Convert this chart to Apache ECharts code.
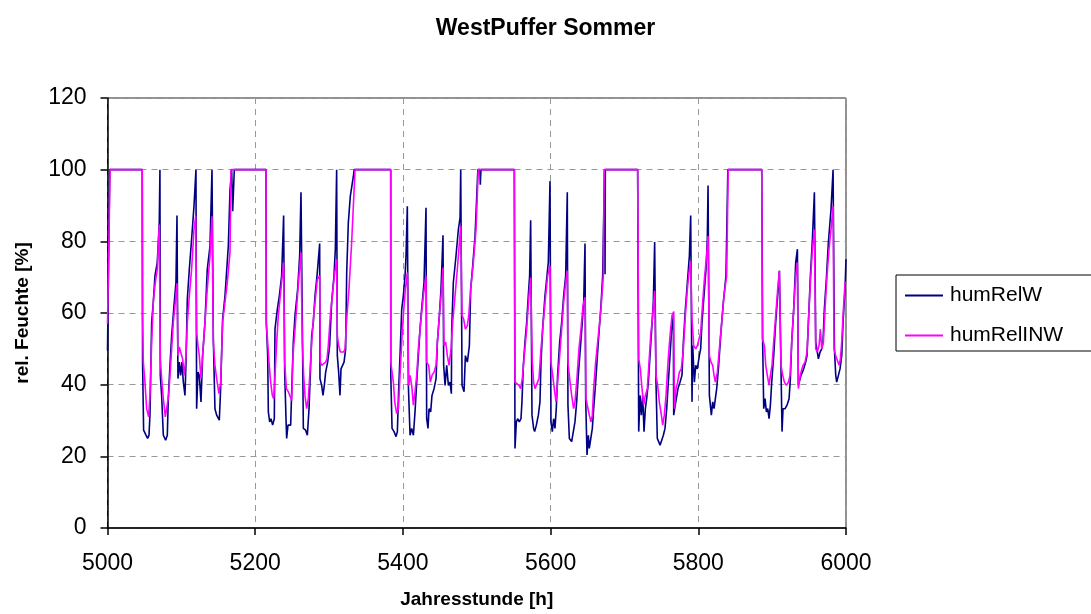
<!DOCTYPE html>
<html>
<head>
<meta charset="utf-8">
<script src="https://cdn.jsdelivr.net/npm/echarts@6/dist/echarts.min.js"></script>
<style>
html,body{margin:0;padding:0;background:#fff;}
#chart{width:1091px;height:614px;}
</style>
</head>
<body>
<div id="chart"></div>
<script>
var titleText = 'WestPuffer Sommer';
var xAxisName = 'Jahresstunde [h]';
var yAxisName = 'rel. Feuchte [%]';
var seriesNames = ['humRelW', 'humRelINW'];
var xTicks = [5000, 5200, 5400, 5600, 5800, 6000];
var yTicks = [0, 20, 40, 60, 80, 100, 120];

// humRelW : hour / value pairs
var wHours = [
5000,5003,5047,5047.5,5048.9,5052.1,5054.3,5056.2,5057.5,5059.8,5062,5064.3,5067.4,5070.1,5071,
5071.5,5073.3,5075.6,5078.7,5081,5082.3,5084.6,5086.9,5090,5092.7,5094.1,
5095.4,5097.2,5099,5100.8,5102.7,5104.9,5106.3,5108.1,5110.8,5113.9,5117.1,5119.8,
5120.7,5122.5,5124.3,5126.6,5128.8,5132,5135.1,5138.8,5141.5,
5143.3,5145.5,5147.8,5151.4,5153.2,5155.9,5159.1,5163.6,5165.9,5168.1,5169.5,5171.7,5214.6,
5215.1,5216.9,5217.8,5219.6,5221.4,5223.6,5225.9,5226.8,5230,5232.7,5235.8,5238.5,
5239.9,5241.7,5242.6,5244.4,5248,5249.8,5251.6,5253.9,5257.5,5260.2,5262,
5263.8,5265.2,5268.3,5270.6,5272.9,5274.7,5276.5,5278.7,5281,5283.7,5287.3,
5287.7,5290,5291.8,5293.6,5295.4,5298.1,5300.8,5303.5,5306.7,5308.5,5310.3,
5311.2,5313,5314.8,5316.2,5318,5320.3,5322.5,5323.9,5326.1,5328.8,5332.9,5334,5383.5,
5383.6,5385.3,5388,5390.7,5392.5,5394.3,5396.1,5398.4,5400.6,5402.9,5404.2,5406,
5407.4,5409.7,5411.9,5414.2,5416.4,5418.7,5420.9,5423.2,5425.4,5428.6,5431.3,
5432.2,5434,5435.4,5437.6,5439.4,5442.2,5444.9,5446.7,5449.4,5451.6,5454.3,
5455.2,5457.1,5459.3,5461.6,5463.8,5465.6,5466.1,5468.3,5471.9,5475.1,5477.4,5478.3,
5480.1,5482.8,5484.6,5487.3,5490,5491.8,5494.5,5497.7,5501.5,5504.4,5504.8,5505.7,5550.9,
5551.8,5553.6,5555.4,5557.6,5559.9,5561.2,5563.1,5565.3,5567.6,5569.8,5571.6,5573,
5574.8,5577,5578.4,5580.7,5583.4,5585.6,5587,5589.2,5592.4,5595.1,5596.9,5599.2,
5600.5,5602.3,5604.1,5605.9,5607.7,5609.5,5612.3,5615,5617.7,5620.4,5622.6,
5623.5,5625.4,5628.5,5631.2,5633,5635.3,5637.5,5640.2,5642.9,5644.8,5646.6,
5647.5,5649.3,5651.1,5652.4,5654.7,5656.5,5658.3,5661,5664.6,5668.2,5670.5,5673,5673.7,5674.1,5717.9,
5719.3,5721.1,5722.9,5724.7,5726.5,5728.3,5730.1,5732.4,5734.6,5736.9,5739.1,5740.9,
5742.7,5744.5,5746.3,5748.2,5750.4,5752.7,5754.9,5757.2,5759.4,5761.7,5763.9,5766.2,
5766.7,5768,5770.7,5772.5,5775.2,5777.9,5779.8,5782.5,5785.2,5787.9,5789.7,
5791.5,5792.4,5794.7,5796.5,5798.7,5801.4,5803.2,5805,5807.7,5810.4,5812.2,5813.2,
5815,5817.7,5819.5,5821.3,5823.1,5824.9,5827.6,5830.3,5833.9,5837.5,5840,5885.9,
5887.2,5888.6,5890.4,5892.2,5894,5895.8,5897.6,5899.4,5902.1,5904.8,5907.5,5909.8,5911.1,
5912,5913.4,5914.7,5917.5,5920.2,5922.9,5924.7,5926.5,5929.2,5931.9,5934.2,
5935.5,5937.3,5939.1,5940.9,5942.7,5945.4,5947.2,5949.1,5951.8,5954.5,5957.2,
5959,5961.2,5962.6,5964.9,5967.1,5968.9,5970.7,5973.4,5976.1,5979.7,5982.5,
5984.3,5986.1,5987.4,5989.7,5991.9,5994.2,5996,5998.7,6000
];
var wValues = [
49.5,100,100,46,27.3,25.9,25,25.9,31.5,57.4,63,70.4,74.1,85.2,100,
42.6,37,25.9,24.5,25.9,36.1,45.4,53.7,62,68.5,87.2,
41.7,46.3,42.6,46.3,40.7,37,46.3,63.9,72.2,80.6,89.8,100,
33.3,43.5,42.6,35.2,48.1,57.4,72.2,78.7,100,
52.8,33.3,31.5,30.1,38.9,58.3,64.8,78.7,94.4,100,88.4,100,100,
57.4,48.1,32.4,29.6,30.5,28.7,30.5,55.5,61.1,64.8,70.4,87.2,
43.5,30.5,25,28.7,28.7,40.7,51.9,59.3,66.7,75.9,93.7,
57.4,27.8,27.3,25.9,33.3,43.5,53.7,57.4,64.8,70.4,79.4,
41.7,39.8,37,39.8,43.5,46.3,50.9,62.9,70.4,77.8,100,
48.1,43.5,37,44.4,44.4,46.3,50,71.3,85.2,92.6,98.1,100,100,
42.6,27.8,26.9,25.5,26.9,38.9,48.1,61.1,64.8,70.4,75.9,89.8,
39.8,25.9,27.8,25.9,32.4,40.7,48.1,55.5,61.1,68.5,89.4,
30.5,27.8,33.3,32.4,37,38.9,41.7,51.9,59.3,66.7,81.7,
45.4,39.8,45.4,39.8,40.7,37.5,55.5,68.5,75.9,83.3,86.6,100,
39.8,38,48.1,46.3,50.9,66.7,73.1,81.5,100,100,95.8,100,100,
22.2,29.6,30.5,29.6,30.5,35.2,45.4,51.9,57.4,64.8,70.4,85.9,
31.5,27.8,26.9,28.7,31.5,35.2,46.3,55.5,64.8,70.4,74.1,96.8,
29.6,26.9,30.5,27.8,33.3,42.6,51.9,57.4,64.8,70.4,93.7,
34.3,25,24.1,24.1,29.6,35.2,42.6,50,57.4,63,79.4,
36.1,20.4,25.9,22.2,22.7,27.8,33.3,40.7,51.9,62,70.4,100,70.8,100,100,
26.9,37,31.5,37,26.9,33.3,36.1,40.7,48.1,55.5,63,79.8,
40.7,25,24.1,23.1,22.7,25.9,27.8,33.3,40.7,48.1,55.5,59.3,
31.5,33.3,33.3,38.9,40.7,42.6,51.9,61.1,68.5,75.9,87.2,
35.2,50.9,40.7,45.4,44.4,48.1,50,57.4,64.8,72.2,80.6,95.6,
37,31.5,35.2,33.3,36.1,38.9,45.4,53.7,63,70.4,100,100,
50.9,33.3,36.1,32.4,33.3,30.5,34.3,40.7,48.1,57.4,64.8,71.8,71.8,
44.4,26.9,33.3,33.3,34.3,36.1,41.7,51.9,61.1,74.1,77.8,
39.8,39.8,42.6,43.5,44.4,46.3,48.1,57.4,70.4,80.6,93.7,
51.9,49.1,47.2,49.1,50,51.9,61.1,69.4,79.6,88.9,100,
50,42.6,40.7,42.6,44.4,48.1,57.4,66.7,75
];

// humRelINW : hour / value pairs
var nwHours = [
5000,5003.5,5047.1,5047.5,5048.5,5050.7,5053,5055.7,5057.5,5059.8,5062,5064.7,5067.4,5070.1,
5071.5,5073.3,5075.6,5078.3,5081,5082.8,5084.6,5086.9,5089.1,5091.8,5094.1,
5095.4,5097.2,5099.5,5101.7,5104,5106.3,5108.1,5110.8,5113.9,5117.1,5119.4,
5120.7,5122.5,5124.3,5126.6,5128.8,5132,5135.1,5138.8,5141.5,
5143.3,5145.5,5147.8,5150.9,5153.2,5155.9,5159.1,5162.2,5165.9,5167.2,5214.6,
5214.8,5216.9,5218.7,5220.9,5223.2,5225,5226.8,5229.1,5231.3,5234.9,5238.5,
5239.9,5242.2,5244.9,5247.1,5249.4,5251.2,5253.9,5256.6,5259.3,5262,
5263.8,5265.6,5267.4,5269.7,5271.9,5274.2,5276.5,5279.2,5281.9,5284.1,5287.3,
5288.2,5290,5292.7,5295.4,5297.2,5299,5301.7,5304.4,5307.2,5310.3,
5311.2,5313,5315.3,5318,5319.8,5321.6,5323.9,5327,5330.6,5335.2,5383.5,
5383.6,5385.3,5387.1,5388.9,5391.6,5393.9,5396.1,5398.4,5400.6,5403.3,5406,
5407.9,5409.7,5411.9,5414.2,5416.4,5418.7,5420.9,5424.1,5427.7,5431.3,
5432.2,5434.9,5437.2,5439.4,5442.2,5444.9,5446.7,5449.4,5452.5,5454.3,
5455.7,5457.9,5460.2,5462.5,5465.2,5467.4,5470.6,5473.7,5476.5,5478.3,
5480.1,5482.3,5484.6,5487.3,5489.1,5491.8,5495.4,5499,5502.1,5550.9,
5551.8,5554.5,5557.2,5559.4,5561.7,5564.4,5567.6,5570.7,5573,
5575.2,5577,5578.9,5581.6,5584.3,5587,5590.1,5593.3,5596,5599.2,
5600.5,5602.8,5605,5607.3,5609.5,5612.3,5615,5617.7,5620.4,5622.6,
5623.5,5625.8,5628.5,5631.2,5633,5635.3,5638.4,5641.1,5643.9,5646.6,
5647.9,5650.2,5652.4,5654.7,5656.5,5658.3,5661,5664.6,5668.2,5671.4,5672.6,5717.9,
5719.3,5721.5,5723.8,5726,5728.3,5731,5733.3,5735.5,5738.2,5740.9,
5742.7,5745,5747.2,5750,5751.8,5754,5756.3,5759,5761.7,5764.4,5766.7,
5767.6,5769.8,5772.1,5774.3,5777,5779.8,5782.5,5785.2,5787.9,5789.7,
5791.5,5793.7,5796.5,5798.7,5801.4,5803.2,5805.9,5808.6,5811.3,5813.2,
5815,5817.2,5819.5,5821.3,5823.1,5825.8,5828.5,5831.7,5834.8,5838.4,5840.5,5885.9,
5886.8,5889.5,5891.3,5893.5,5895.8,5897.6,5899.8,5902.1,5904.8,5907.5,5909.8,5911.1,
5912,5914.3,5916.6,5919.3,5922,5924.2,5926.5,5929.2,5931.9,5934.2,
5935.5,5937.3,5939.1,5941.8,5944.5,5947.2,5949.1,5951.8,5954.5,5957.2,
5959,5961.2,5963.5,5965.3,5967.1,5969.4,5971.6,5974.3,5977,5979.7,5982.5,
5983.8,5986.1,5988.3,5990.6,5992.4,5994.2,5996,5998.7,6000
];
var nwValues = [
57,100,100,59.3,46.3,40.7,33.3,31,37,51.9,63,68.5,72.2,84.7,
47.2,41.7,36.1,31,31.5,37,42.6,50,57.4,63,68.3,
48.1,50.5,50,47.2,42.6,48.1,57.4,64.8,72.2,83.3,87,
54.6,50.9,48.1,41.7,48.1,57.4,66.7,75.9,87,
51.9,45.4,41.7,37.5,40.7,57.4,63,68.5,76.9,100,100,
57.4,51.9,46.3,40.7,37,36.1,42.6,51.9,59.3,66.7,74.1,
46.3,38.9,38,37.5,35.6,48.1,55.5,63,70.4,76.9,
51.9,42.6,37,33.3,36.1,43.5,51.9,59.3,64.8,69.4,70.4,
46.3,45.4,44.9,46.3,47.2,50.9,59.3,64.8,70.4,75,
53.7,50.9,49.1,49.5,49.1,50,58.3,66.7,79.6,100,100,
46.3,43.5,40.7,35.2,31.9,33.3,42.6,51.9,59.3,66.7,71.3,
39.8,42.6,39.8,34.3,38,42.6,50,57.4,64.8,70.4,
46.3,45.4,40.7,42.6,43.5,45.4,51.9,59.3,66.7,72.7,
50.9,51.9,48.1,45.4,50,57.4,64.8,72.2,79.6,84.3,
59.3,58.3,55.5,56.5,59.3,66.7,74.1,83.3,100,100,
40.7,40.7,39.8,38.9,41.7,48.1,55.5,64.8,69.9,
46.3,40.7,38.9,38.9,41.7,50,57.4,64.8,70.4,73.1,
46.3,42.6,38.9,35.2,40.7,48.1,55.5,63,68.5,71.8,
46.3,41.7,37,33.3,35.2,40.7,50,55.5,62,64.4,
36.1,36.1,31.5,29.6,31.5,38.9,46.3,53.7,61.1,70.4,100,100,
47.2,44.4,38.9,34.3,37,38.9,46.3,53.7,59.3,66.2,
42.6,39.8,35.2,31.5,28.7,31.5,37,46.3,53.7,59.3,60.4,
33.3,38.9,40.7,43.5,44.4,50,59.3,66.7,72.2,74.5,
58.3,50.9,50,50.9,50.9,54.6,63,70.4,75.9,81.5,
48.1,46.3,45.4,42.6,40.7,43.5,50,57.4,64.8,70.4,100,100,
52.8,50.9,45.4,42.6,39.8,42.6,45.4,51.9,59.3,66.7,71.8,71.8,
45.4,42.6,40.7,39.8,40.7,42.6,51.9,61.1,70.4,74.1,
38.9,41.7,43.5,45.4,46.3,49.1,57.4,68.5,77.8,83.3,
50,49.1,50.9,55.5,50,51.9,61.1,70.4,77.8,83.3,89.8,
50,48.1,47.7,45.4,47.2,51.9,59.3,68.5,68.5
];

function pairs(xs, ys) {
  var out = [];
  for (var i = 0; i < xs.length && i < ys.length; i++) out.push([xs[i], ys[i]]);
  return out;
}

var FONT = '"Liberation Sans", Arial, sans-serif';
var chart = echarts.init(document.getElementById('chart'), null, {renderer: 'canvas'});
chart.setOption({
  animation: false,
  backgroundColor: '#ffffff',
  title: {
    text: titleText, left: 'center', top: 12,
    textStyle: {fontFamily: FONT, fontSize: 23, fontWeight: 'bold', color: '#000'}
  },
  legend: {
    orient: 'vertical', left: 896, top: 275,
    padding: [10, 40, 5, 9],
    itemGap: 19,
    itemWidth: 38, itemHeight: 2,
    borderColor: '#000', borderWidth: 1,
    icon: 'rect',
    textStyle: {fontFamily: FONT, fontSize: 21, color: '#000', padding: [0, 0, 0, 2]},
    data: seriesNames
  },
  grid: {
    left: 107.5, right: 245, top: 98, bottom: 84,
    show: true, borderColor: '#222', borderWidth: 1
  },
  xAxis: {
    type: 'value', min: xTicks[0], max: xTicks[xTicks.length - 1], interval: 200,
    name: xAxisName, nameLocation: 'middle', nameGap: 62,
    nameTextStyle: {fontFamily: FONT, fontSize: 19, fontWeight: 'bold', color: '#000'},
    axisLine: {show: true, lineStyle: {color: '#000', width: 1.5}},
    axisTick: {show: true, length: 7, lineStyle: {color: '#000', width: 1.5}},
    axisLabel: {fontFamily: FONT, fontSize: 23, color: '#000', margin: 24,
      formatter: function (v) { return String(v); }},
    splitLine: {show: true, lineStyle: {color: '#999', type: [6, 5], width: 1}}
  },
  yAxis: {
    type: 'value', min: yTicks[0], max: yTicks[yTicks.length - 1], interval: 20,
    name: yAxisName, nameLocation: 'middle', nameGap: 75, nameRotate: 90,
    nameTextStyle: {fontFamily: FONT, fontSize: 19, fontWeight: 'bold', color: '#000'},
    axisLine: {show: true, lineStyle: {color: '#000', width: 1.5}},
    axisTick: {show: true, length: 7, lineStyle: {color: '#000', width: 1.5}},
    axisLabel: {fontFamily: FONT, fontSize: 23, color: '#000', margin: 21},
    splitLine: {show: true, lineStyle: {color: '#999', type: [6, 5], width: 1}}
  },
  series: [
    {
      name: seriesNames[0], type: 'line', data: pairs(wHours, wValues),
      showSymbol: false, symbol: 'none',
      lineStyle: {color: '#000080', width: 1.6}, itemStyle: {color: '#000080'}, z: 2
    },
    {
      name: seriesNames[1], type: 'line', data: pairs(nwHours, nwValues),
      showSymbol: false, symbol: 'none',
      lineStyle: {color: '#ff00ff', width: 1.6}, itemStyle: {color: '#ff00ff'}, z: 3
    }
  ]
});
</script>
</body>
</html>
